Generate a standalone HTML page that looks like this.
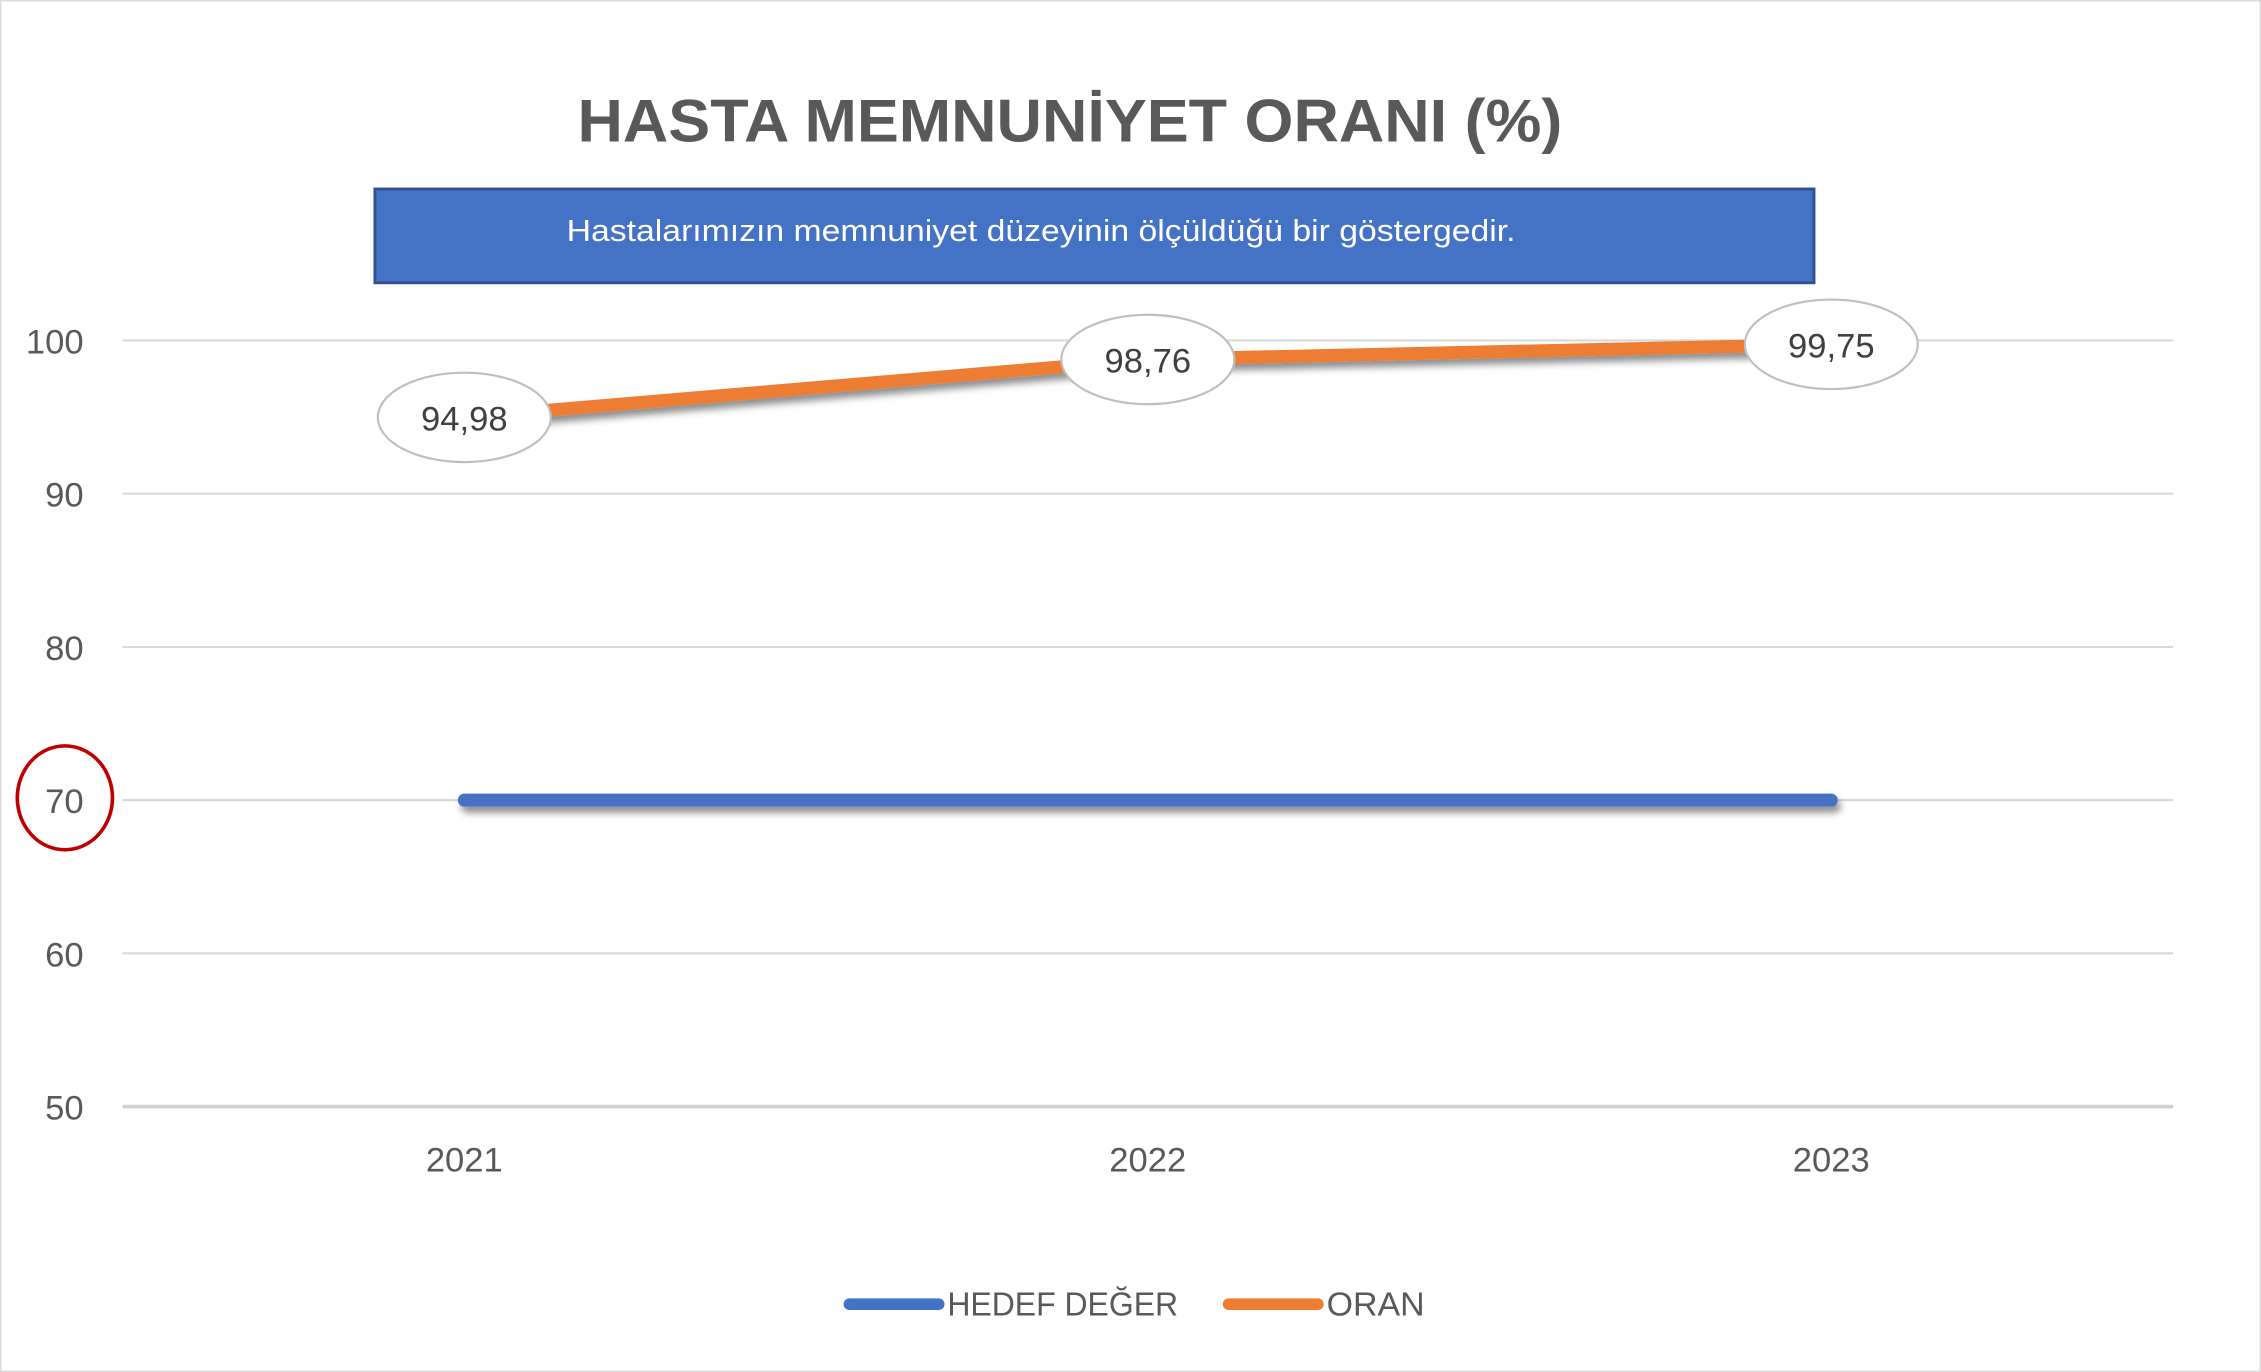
<!DOCTYPE html>
<html><head><meta charset="utf-8"><style>
html,body{margin:0;padding:0;background:#fff;}
svg{display:block;font-family:"Liberation Sans",sans-serif;}
</style></head><body>
<svg id="c" width="2261" height="1372" viewBox="0 0 1568 951" preserveAspectRatio="none">
<defs>
<filter id="sh" filterUnits="userSpaceOnUse" x="0" y="0" width="1568" height="951"><feGaussianBlur in="SourceAlpha" stdDeviation="2.5"/><feOffset dx="2" dy="4"/><feComponentTransfer><feFuncA type="linear" slope="0.45"/></feComponentTransfer><feMerge><feMergeNode/><feMergeNode in="SourceGraphic"/></feMerge></filter>
</defs>
<rect x="0.5" y="0.5" width="1567" height="950" fill="#fff" stroke="#d9d9d9" stroke-width="1"/>
<text x="742" y="98" text-anchor="middle" font-size="42" font-weight="bold" fill="#595959" textLength="683" lengthAdjust="spacingAndGlyphs">HASTA MEMNUNİYET ORANI (%)</text>
<rect x="260" y="131" width="998" height="65" fill="#4472C4" stroke="#2F528F" stroke-width="2"/>
<text x="722" y="167" text-anchor="middle" font-size="21" fill="#fff" textLength="658" lengthAdjust="spacingAndGlyphs">Hastalarımızın memnuniyet düzeyinin ölçüldüğü bir göstergedir.</text>
<g id="grid"></g>
<g id="series"></g>
<ellipse cx="45" cy="553" rx="33" ry="36" fill="none" stroke="#C00000" stroke-width="2.5"/>
<g>
<line x1="589" y1="904" x2="651" y2="904" stroke="#4472C4" stroke-width="8" stroke-linecap="round"/>
<text x="657" y="912" font-size="23" fill="#595959" textLength="160" lengthAdjust="spacingAndGlyphs">HEDEF DEĞER</text>
<line x1="852" y1="904" x2="914" y2="904" stroke="#ED7D31" stroke-width="8" stroke-linecap="round"/>
<text x="920" y="912" font-size="23" fill="#595959" textLength="68" lengthAdjust="spacingAndGlyphs">ORAN</text>
</g>
</svg>
<script>
const categories = ["2021","2022","2023"];
const hedefValues = [70,70,70];
const oranValues = [94.98,98.76,99.75];
const oranLabels = ["94,98","98,76","99,75"];
const yTicks = [50,60,70,80,90,100];

const NS="http://www.w3.org/2000/svg";
const x0=85,x1=1507,y50=767,y100=236;
function y(v){return y50-(v-50)*(y50-y100)/50;}
function x(i){return 322+i*474;}
function mk(tag,attrs,parent){const e=document.createElementNS(NS,tag);for(const k in attrs)e.setAttribute(k,attrs[k]);parent.appendChild(e);return e;}
const grid=document.getElementById('grid'),ser=document.getElementById('series');
yTicks.forEach(t=>{
  const l=mk('line',{x1:x0,x2:x1,y1:y(t),y2:y(t),stroke:t===50?'#d0d0d0':'#d9d9d9','stroke-width':t===50?2.5:1.5},grid);
  
  
  const tx=mk('text',{x:58,y:y(t)+9,'text-anchor':'end','font-size':24,fill:'#595959'},grid);
  tx.textContent=t;
  
  
});
categories.forEach((c,i)=>{
  const tx=mk('text',{x:x(i),y:812,'text-anchor':'middle','font-size':24,fill:'#595959'},grid);
  tx.textContent=c;
  
  
});
function pts(vals){return vals.map((v,i)=>x(i)+','+y(v)).join(' ');}
const h=mk('polyline',{points:pts(hedefValues),fill:'none',stroke:'#4472C4','stroke-width':9,'stroke-linecap':'round','stroke-linejoin':'round',filter:'url(#sh)'},ser);


const o=mk('polyline',{points:pts(oranValues),fill:'none',stroke:'#ED7D31','stroke-width':9,'stroke-linecap':'round','stroke-linejoin':'round',filter:'url(#sh)'},ser);


oranValues.forEach((v,i)=>{
  const e=mk('ellipse',{cx:x(i),cy:y(v),rx:60,ry:31,fill:'#fff',stroke:'#bfbfbf','stroke-width':1.5},ser);
  
  
  const t=mk('text',{x:x(i),y:y(v)+9,'text-anchor':'middle','font-size':24,fill:'#404040'},ser);
  t.textContent=oranLabels[i];
  
  
});
</script>
</body></html>
